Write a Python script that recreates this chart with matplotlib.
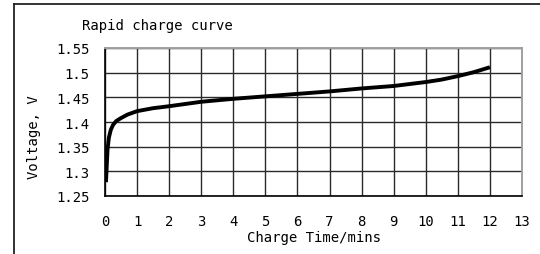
import matplotlib
matplotlib.use("Agg")
import matplotlib.pyplot as plt
from matplotlib.lines import Line2D

plt.rcParams['font.family'] = ['DejaVu Sans Mono']

# Data
time_min = [0.03, 0.08, 0.12, 0.18, 0.25, 0.35, 0.5, 0.7, 1.0, 1.5, 2.0, 3.0, 4.0,
            5.0, 6.0, 7.0, 8.0, 9.0, 10.0, 10.5, 11.0, 11.5, 12.0]
voltage = [1.278, 1.345, 1.368, 1.384, 1.394, 1.402, 1.408, 1.415, 1.422, 1.428,
           1.432, 1.441, 1.447, 1.452, 1.457, 1.462, 1.468, 1.473, 1.481, 1.486,
           1.493, 1.501, 1.511]
x_ticks = list(range(0, 14))
y_ticks = [1.25, 1.3, 1.35, 1.4, 1.45, 1.5, 1.55]
y_tick_labels = ["1.25", "1.3", "1.35", "1.4", "1.45", "1.5", "1.55"]

W, H = 540, 255
fig = plt.figure(figsize=(W / 100, H / 100), dpi=100)
fig.patch.set_facecolor("white")

ax = fig.add_axes([105 / W, (H - 197) / H, (522 - 105) / W, (197 - 49) / H])
ax.plot(time_min, voltage, color="black", linewidth=2.8, solid_capstyle="butt")
ax.set_xlim(0, 13)
ax.set_ylim(1.25, 1.55)
ax.set_xticks(x_ticks)
ax.set_yticks(y_ticks)
ax.set_yticklabels(y_tick_labels)
ax.grid(True, color="#2a2a2a", linewidth=1.0)
ax.set_axisbelow(True)
ax.tick_params(length=0, labelsize=10)
ax.tick_params(axis="y", pad=11)
ax.tick_params(axis="x", pad=13)
for s in ["left", "bottom"]:
    ax.spines[s].set_color("black")
    ax.spines[s].set_linewidth(1.2)
for s in ["right", "top"]:
    ax.spines[s].set_color("#a0a0a0")
    ax.spines[s].set_linewidth(1.4)

fig.text(82 / W, 1 - 26 / H, "Rapid charge curve", ha="left", va="center", fontsize=10)
fig.text(314 / W, 1 - 238 / H, "Charge Time/mins", ha="center", va="center", fontsize=10)
fig.text(34 / W, 1 - 137 / H, "Voltage, V", ha="center", va="center",
         rotation=90, fontsize=10)

# figure border (left and top)
fig.add_artist(Line2D([14 / W, 14 / W], [0, 1 - 5 / H], color="#222222", linewidth=1.3,
                      transform=fig.transFigure))
fig.add_artist(Line2D([14 / W, 1], [1 - 5 / H, 1 - 5 / H], color="#222222", linewidth=1.3,
                      transform=fig.transFigure))

fig.savefig("out.png", dpi=100)
